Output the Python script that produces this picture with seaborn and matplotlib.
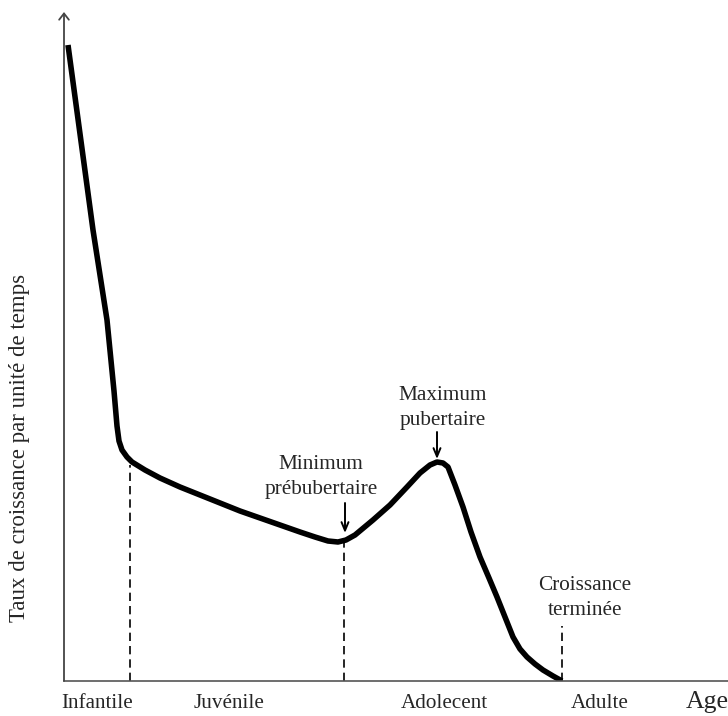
import matplotlib
matplotlib.use("Agg")
import matplotlib.pyplot as plt
import seaborn as sns
import pandas as pd

# --- data (age units, growth-rate units) ---
age = [4, 29, 43, 50, 53, 55, 58, 63, 68, 81, 96, 116, 136, 156, 176,
       196, 216, 236, 251, 264, 274, 282, 291, 309, 326, 343, 356, 366, 373, 379,
       384, 391, 399, 407, 416, 425, 433, 441, 449, 456, 463, 471, 479, 489, 498]
rate = [636, 451, 361, 290, 255, 240, 231, 224, 219, 211, 203, 194,
        186, 178, 170, 163, 156, 149, 144, 140, 139, 141, 146, 161, 176, 194, 208,
        216, 219, 218, 214, 196, 174, 149, 124, 103, 84, 64, 44, 32, 24, 17, 11, 5, 0]

phase_bounds_x = [66, 280, 498]
phase_bounds_top = [216, 140, 55]

phase_labels = ["Infantile", "Juvénile", "Adolecent", "Adulte"]
phase_label_x = [33, 165, 380, 536]

annot_texts = ["Minimum\nprébubertaire", "Maximum\npubertaire", "Croissance\nterminée"]
annot_text_xy = [(257, 204), (379, 273), (521, 83)]
annot_arrows = [((281, 178), (281, 148)), ((373, 249), (373, 222))]

xlabel = "Age"
ylabel = "Taux de croissance par unité de temps"

sns.set_style("white")
plt.rcParams["font.family"] = ["Liberation Serif", "DejaVu Serif"]

fig = plt.figure(figsize=(7.28, 7.16), dpi=100)
ax = fig.add_axes([64 / 728, 35 / 716, 664 / 728, 669 / 716])
ax.set_xlim(0, 664)
ax.set_ylim(0, 669)

df = pd.DataFrame({"age": age, "rate": rate})
sns.lineplot(data=df, x="age", y="rate", sort=False, estimator=None, ax=ax,
             color="black", linewidth=4.0, solid_joinstyle="round",
             solid_capstyle="butt")

ax.vlines(phase_bounds_x, 0, phase_bounds_top, colors="black",
          linewidth=1.2, linestyles=(0, (5, 3)))

# spines
for s in ["top", "right", "left"]:
    ax.spines[s].set_visible(False)
ax.spines["bottom"].set_color("#555555")
ax.spines["bottom"].set_linewidth(1.2)
ax.set_xticks([])
ax.set_yticks([])
ax.set_xlabel("")
ax.set_ylabel("")

# y axis with open arrow
ax.annotate("", xy=(0, 669), xytext=(0, 0), xycoords="data",
            arrowprops=dict(arrowstyle="->,head_length=0.45,head_width=0.35",
                            lw=1.3, color="#444444", shrinkA=0, shrinkB=0),
            annotation_clip=False)

for lab, x in zip(phase_labels, phase_label_x):
    ax.text(x, -23, lab, ha="center", va="center", fontsize=15.2, clip_on=False)
ax.text(643, -21, xlabel, ha="center", va="center", fontsize=18.5, clip_on=False)

for t, (x, y) in zip(annot_texts, annot_text_xy):
    ax.text(x, y, t, ha="center", va="center", multialignment="center",
            fontsize=15.3, linespacing=1.45)

for (start, tip) in annot_arrows:
    ax.annotate("", xy=tip, xytext=start,
                arrowprops=dict(arrowstyle="->,head_length=0.6,head_width=0.25",
                                lw=1.4, color="black", shrinkA=0, shrinkB=0))

fig.text(20 / 728, 1 - 448 / 716, ylabel, rotation=90, ha="center", va="center",
         fontsize=16.5)

fig.savefig("out.png", dpi=100)
